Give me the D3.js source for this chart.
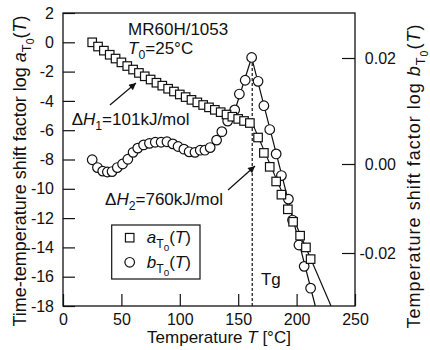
<!DOCTYPE html>
<html>
<head>
<meta charset="utf-8">
<script src="https://d3js.org/d3.v7.min.js"></script>
<style>
  html, body { margin: 0; padding: 0; background: #fff; }
  svg { display: block; font-family: "Liberation Sans", Arial, sans-serif; }
</style>
</head>
<body>
<div id="chart"></div>
<script>
'use strict';

// ─── DATA ────────────────────────────────────────────────────

// a_T0(T): time-temperature shift factor (left axis)
var tempA = [25, 30, 35, 40, 45, 50, 55, 60, 65, 70, 75, 80, 85, 90, 95,
             100, 105, 110, 115, 120, 125, 130, 135, 140, 145, 150, 155, 160,
             167, 172, 177, 182.5, 187, 192.5, 197, 203, 208, 212];
var logA = [0, -0.29, -0.57, -0.85, -1.11, -1.37, -1.62, -1.86, -2.09, -2.32, -2.54, -2.76, -2.96, -3.17, -3.36,
            -3.56, -3.74, -3.93, -4.10, -4.28, -4.44, -4.61, -4.77, -4.93, -5.08, -5.23, -5.37, -5.51,
            -6.5, -7.55, -8.5, -9.5, -10.4, -11.4, -12.25, -13.2, -14.0, -14.8];

// b_T0(T): temperature shift factor (right axis)
var tempB = [25, 29.5, 34, 38, 42, 46.5, 51, 55.5, 60, 64, 69, 74, 79, 84, 89, 94, 98.5,
             103.5, 108, 113, 117.5, 121.5, 126, 131.5, 136, 141, 147, 151, 156, 161.5,
             167, 172, 177, 182.5, 187, 193, 196.5, 202, 206.5, 212];
var logB = [0.0008, -0.0008, -0.0016, -0.0018, -0.0017, -0.0008, 0, 0.0009, 0.0022, 0.0030,
            0.0036, 0.0039, 0.0041, 0.0041, 0.0042, 0.0038, 0.0033, 0.0028, 0.0023, 0.0022,
            0.0026, 0.0026, 0.0031, 0.0045, 0.0061, 0.0081, 0.0102, 0.0132, 0.0158, 0.0201,
            0.0156, 0.0110, 0.0065, 0.0019, -0.0026, -0.0079, -0.0126, -0.0182, -0.0230, -0.0279];

// fitted lines
var fitA = [[162, -5.5], [229.5, -18]];
var fitB = [[146, 0.0093], [161.5, 0.0201], [216, -0.0319]];
var tg = 162;

var xTicks = [0, 50, 100, 150, 200, 250];
var yLeftTicks = [2, 0, -2, -4, -6, -8, -10, -12, -14, -16, -18];
var yRightTicks = [0.02, 0, -0.02];

// ─── LAYOUT ──────────────────────────────────────────────────

var W = 430, H = 350;
var margin = { top: 13, right: 75, bottom: 44, left: 63 };
var iw = W - margin.left - margin.right;
var ih = H - margin.top - margin.bottom;
var INK = '#111';

var x = d3.scaleLinear().domain([0, 250]).range([0, iw]);
var yL = d3.scaleLinear().domain([-18, 2]).range([ih, 0]);
// the printed right axis is not evenly spaced, so map it piecewise
var yR = d3.scaleLinear()
    .domain([-0.0319, -0.02, 0, 0.02, 0.0285])
    .range([ih, 240, 151, 45, 0]);

var svg = d3.select('#chart').append('svg')
    .attr('width', W)
    .attr('height', H);

var g = svg.append('g')
    .attr('transform', 'translate(' + margin.left + ',' + margin.top + ')');

// text with italic parts and (nested) subscripts
function richText(sel, parts, fs) {
    var shift = [0, fs * 0.3, fs * 0.45];
    var size = [fs, fs * 0.72, fs * 0.58];
    var level = 0;
    parts.forEach(function(p) {
        var lv = p.sub || 0;
        sel.append('tspan')
            .attr('dy', shift[lv] - shift[level])
            .attr('font-size', size[lv])
            .attr('font-style', p.i ? 'italic' : null)
            .text(p.t);
        level = lv;
    });
}

function styleAxis(a) {
    a.select('.domain').remove();
    a.attr('font-family', null).attr('font-size', 16);
    a.selectAll('line').attr('stroke', INK).attr('stroke-width', 1.2);
    a.selectAll('text').attr('fill', INK);
}

// ─── AXES ────────────────────────────────────────────────────

g.append('g')
    .call(d3.axisLeft(yL).tickValues(yLeftTicks).tickSize(-12).tickPadding(9)
        .tickFormat(function(d) { return String(d); }))
    .call(styleAxis);

g.append('g')
    .attr('transform', 'translate(0,' + ih + ')')
    .call(d3.axisBottom(x).tickValues(xTicks).tickSize(-12).tickPadding(8)
        .tickFormat(function(d) { return String(d); }))
    .call(styleAxis);

g.append('g')
    .attr('transform', 'translate(' + iw + ',0)')
    .call(d3.axisRight(yR).tickValues(yRightTicks).tickSize(-13)
        .tickFormat(function(d) { return d.toFixed(2); }))
    .call(styleAxis)
    .selectAll('text')
    .attr('text-anchor', 'end')
    .attr('x', 41);

g.append('rect')
    .attr('width', iw)
    .attr('height', ih)
    .attr('fill', 'none')
    .attr('stroke', INK)
    .attr('stroke-width', 1.3);

// axis titles
var xt = svg.append('text')
    .attr('x', 219)
    .attr('y', 343)
    .attr('text-anchor', 'middle')
    .attr('fill', INK);
richText(xt, [{ t: 'Temperature ' }, { t: 'T', i: true }, { t: ' [°C]' }], 17);

var ylt = svg.append('text')
    .attr('transform', 'translate(26,171) rotate(-90)')
    .attr('text-anchor', 'middle')
    .attr('fill', INK);
richText(ylt, [{ t: 'Time-temperature shift factor log ' }, { t: 'a', i: true },
    { t: 'T', sub: 1 }, { t: '0', sub: 2 }, { t: '(' }, { t: 'T', i: true }, { t: ')' }], 18);

var yrt = svg.append('text')
    .attr('transform', 'translate(420,176) rotate(-90)')
    .attr('text-anchor', 'middle')
    .attr('letter-spacing', 1)
    .attr('fill', INK);
richText(yrt, [{ t: 'Temperature shift factor log ' }, { t: 'b', i: true },
    { t: 'T', sub: 1 }, { t: '0', sub: 2 }, { t: '(' }, { t: 'T', i: true }, { t: ')' }], 18);

// ─── LINES ───────────────────────────────────────────────────

var lineL = d3.line().x(function(d) { return x(d[0]); }).y(function(d) { return yL(d[1]); });
var lineR = d3.line().x(function(d) { return x(d[0]); }).y(function(d) { return yR(d[1]); });

g.append('path').attr('d', lineL(fitA))
    .attr('fill', 'none').attr('stroke', INK).attr('stroke-width', 1.2);
g.append('path').attr('d', lineR(fitB))
    .attr('fill', 'none').attr('stroke', INK).attr('stroke-width', 1.2);

g.append('line')
    .attr('x1', x(tg)).attr('x2', x(tg))
    .attr('y1', yL(-18)).attr('y2', yR(d3.max(logB)))
    .attr('stroke', INK).attr('stroke-width', 1.2)
    .attr('stroke-dasharray', '3,2');

// ─── MARKERS ─────────────────────────────────────────────────

var SQ = 8.5, CR = 4.8;

g.append('g').selectAll('circle')
    .data(tempB.map(function(t, i) { return { t: t, v: logB[i] }; }))
    .enter().append('circle')
    .attr('cx', function(d) { return x(d.t); })
    .attr('cy', function(d) { return yR(d.v); })
    .attr('r', CR)
    .attr('fill', '#fff').attr('stroke', INK).attr('stroke-width', 1.2);

g.append('g').selectAll('rect')
    .data(tempA.map(function(t, i) { return { t: t, v: logA[i] }; }))
    .enter().append('rect')
    .attr('x', function(d) { return x(d.t) - SQ / 2; })
    .attr('y', function(d) { return yL(d.v) - SQ / 2; })
    .attr('width', SQ).attr('height', SQ)
    .attr('fill', '#fff').attr('stroke', INK).attr('stroke-width', 1.2);

// ─── ANNOTATIONS ─────────────────────────────────────────────

svg.append('defs').append('marker')
    .attr('id', 'arrow')
    .attr('viewBox', '0 0 10 10')
    .attr('refX', 10).attr('refY', 5)
    .attr('markerWidth', 9).attr('markerHeight', 7)
    .attr('markerUnits', 'userSpaceOnUse')
    .attr('orient', 'auto')
    .append('path').attr('d', 'M0,0L10,5L0,10Z').attr('fill', INK);

[[[40.2, -4.28], [62.5, -2.78]], [[141.3, -10.08], [164.4, -8.44]]].forEach(function(a) {
    g.append('line')
        .attr('x1', x(a[0][0])).attr('y1', yL(a[0][1]))
        .attr('x2', x(a[1][0])).attr('y2', yL(a[1][1]))
        .attr('stroke', INK).attr('stroke-width', 1.2)
        .attr('marker-end', 'url(#arrow)');
});

function note(t, v, parts) {
    var s = g.append('text')
        .attr('x', x(t)).attr('y', yL(v))
        .attr('fill', INK);
    richText(s, parts, 17);
}

note(55.7, 0.5, [{ t: 'MR60H/1053' }]);
note(55.7, -0.8, [{ t: 'T', i: true }, { t: '0', sub: 1 }, { t: '=25°C' }]);
note(7.4, -5.65, [{ t: 'Δ' }, { t: 'H', i: true }, { t: '1', sub: 1 }, { t: '=101kJ/mol' }]);
note(36, -11.1, [{ t: 'Δ' }, { t: 'H', i: true }, { t: '2', sub: 1 }, { t: '=760kJ/mol' }]);
note(169.5, -16.57, [{ t: 'Tg' }]);

// ─── LEGEND ──────────────────────────────────────────────────

var lg = g.append('g').attr('transform', 'translate(48.7,212)');
lg.append('rect')
    .attr('width', 88.3).attr('height', 54)
    .attr('fill', '#fff').attr('stroke', INK).attr('stroke-width', 1.2);
lg.append('rect')
    .attr('x', 18 - SQ / 2).attr('y', 12.7 - SQ / 2)
    .attr('width', SQ).attr('height', SQ)
    .attr('fill', '#fff').attr('stroke', INK).attr('stroke-width', 1.2);
lg.append('circle')
    .attr('cx', 18).attr('cy', 37.3).attr('r', CR)
    .attr('fill', '#fff').attr('stroke', INK).attr('stroke-width', 1.2);

[['a', 18], ['b', 43]].forEach(function(row) {
    var s = lg.append('text').attr('x', 35).attr('y', row[1]).attr('fill', INK);
    richText(s, [{ t: row[0], i: true }, { t: 'T', sub: 1 }, { t: '0', sub: 2 },
        { t: '(' }, { t: 'T', i: true }, { t: ')' }], 17);
});
</script>
</body>
</html>
